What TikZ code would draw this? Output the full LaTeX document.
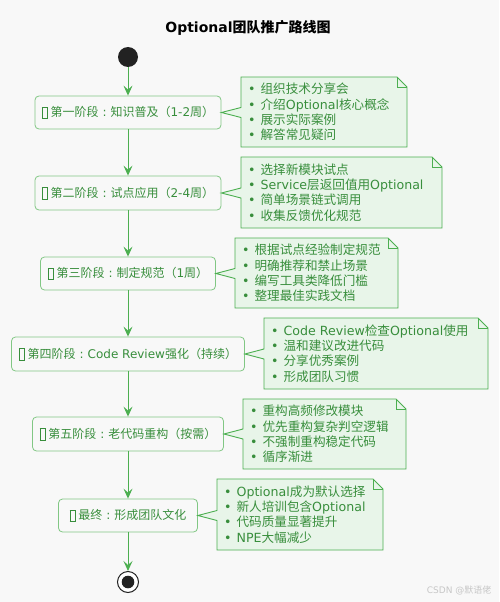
\documentclass[tikz,border=0pt]{standalone}
\usepackage{fontspec}
\setmainfont{Noto Sans CJK SC}
\newfontfamily\lat{DejaVu Sans}
\usetikzlibrary{arrows.meta}
\definecolor{bg}{HTML}{F8F8F8}
\definecolor{nodeborder}{HTML}{81C784}
\definecolor{nodetext}{HTML}{388E3C}
\definecolor{notefill}{HTML}{E8F5E9}
\definecolor{noteborder}{HTML}{4CAF50}
\definecolor{arrowc}{HTML}{4CAF50}
\definecolor{dark}{HTML}{222222}
\newcommand\E[1]{{\lat #1}}
\newcommand\ico{{\fboxsep=0pt\fboxrule=0.5pt\raisebox{-1.5pt}{\fbox{\rule{0pt}{11pt}\rule{5pt}{0pt}}}}}
\newcommand\cln{\makebox[1em]{\E{:}}}
\newcommand\bl{\E{•}\hspace{5pt}}
\tikzset{
  stage/.style={draw=nodeborder, fill=bg, rounded corners=4pt, line width=0.8pt,
    text=nodetext, font=\fontsize{12}{14}\selectfont, inner sep=0pt},
  notestyle/.style={draw=noteborder, fill=notefill, line width=0.9pt},
  notetext/.style={text=nodetext, font=\fontsize{12.6}{15.3}\selectfont, align=left, inner sep=0pt, anchor=west},
  arr/.style={draw=arrowc, line width=1pt, -{Stealth[length=10pt,width=9pt,inset=4pt]}},
}
\newcommand\notebox[8]{%
  \draw[notestyle] (#1,#2) -- ({#3-10},#2) -- (#3,{#2+10}) -- (#3,#4) -- (#1,#4) -- (#1,{#6+5}) -- (#5.east) -- (#1,{#6-5}) -- cycle;
  \draw[notestyle,fill=none] ({#3-10},#2) -- ({#3-10},{#2+10}) -- (#3,{#2+10});
  \node[notetext] (#7) at ({#1+7},{(#2+#4)/2}) {#8};
}
\begin{document}
\begin{tikzpicture}[x=1pt,y=-1pt]
\fill[bg] (0,0) rectangle (499,602);
\useasboundingbox (0,0) rectangle (499,602);
\node[font=\fontsize{14}{16}\selectfont\bfseries, text=black] (title) at (248,28) {\E{\bfseries Optional}团队推广路线图};
\node[circle, fill=dark, minimum size=20pt, inner sep=0pt] (start) at (128,57) {};
\node[stage, minimum width=186pt, minimum height=33pt] (n1) at (128,112.5) {\ico\ 第一阶段\cln 知识普及（\E{1-2}周）};
\node[stage, minimum width=186pt, minimum height=34pt] (n2) at (128,193) {\ico\ 第二阶段\cln 试点应用（\E{2-4}周）};
\node[stage, minimum width=175pt, minimum height=33pt] (n3) at (128,273.5) {\ico\ 第三阶段\cln 制定规范（\E{1}周）};
\node[stage, minimum width=233pt, minimum height=34pt] (n4) at (128,354) {\ico\ 第四阶段\cln \E{Code Review}强化（持续）};
\node[stage, minimum width=191pt, minimum height=34pt] (n5) at (128,434) {\ico\ 第五阶段\cln 老代码重构（按需）};
\node[stage, minimum width=139pt, minimum height=33pt] (n6) at (128,515.5) {\ico\ 最终\cln 形成团队文化};
\node[circle, draw=dark, fill=white, line width=1pt, minimum size=21pt, inner sep=0pt] (end) at (128,582) {};
\fill[dark] (end.center) circle (6.3pt);
\draw[arr] (start) -- (n1);
\draw[arr] (n1) -- (n2);
\draw[arr] (n2) -- (n3);
\draw[arr] (n3) -- (n4);
\draw[arr] (n4) -- (n5);
\draw[arr] (n5) -- (n6);
\draw[arr] (n6) -- (end);
\notebox{241}{77}{407}{147}{n1}{112.5}{t1}{\bl 组织技术分享会\\\bl 介绍\E{Optional}核心概念\\\bl 展示实际案例\\\bl 解答常见疑问}
\notebox{241}{157}{442}{228}{n2}{193}{t2}{\bl 选择新模块试点\\\bl \E{Service}层返回值用\E{Optional}\\\bl 简单场景链式调用\\\bl 收集反馈优化规范}
\notebox{235}{238}{398}{308}{n3}{273.5}{t3}{\bl 根据试点经验制定规范\\\bl 明确推荐和禁止场景\\\bl 编写工具类降低门槛\\\bl 整理最佳实践文档}
\notebox{264}{318}{488}{389}{n4}{354}{t4}{\bl \E{Code Review}检查\E{Optional}使用\\\bl 温和建议改进代码\\\bl 分享优秀案例\\\bl 形成团队习惯}
\notebox{243}{399}{406}{469}{n5}{434}{t5}{\bl 重构高频修改模块\\\bl 优先重构复杂判空逻辑\\\bl 不强制重构稳定代码\\\bl 循序渐进}
\notebox{217}{479}{383}{550}{n6}{515.5}{t6}{\bl \E{Optional}成为默认选择\\\bl 新人培训包含\E{Optional}\\\bl 代码质量显著提升\\\bl \E{NPE}大幅减少}
\node[text=black!22, font=\fontsize{9}{10}\selectfont, anchor=east] (wm) at (495,590) {\E{CSDN @}默语佬};
\end{tikzpicture}
\end{document}
